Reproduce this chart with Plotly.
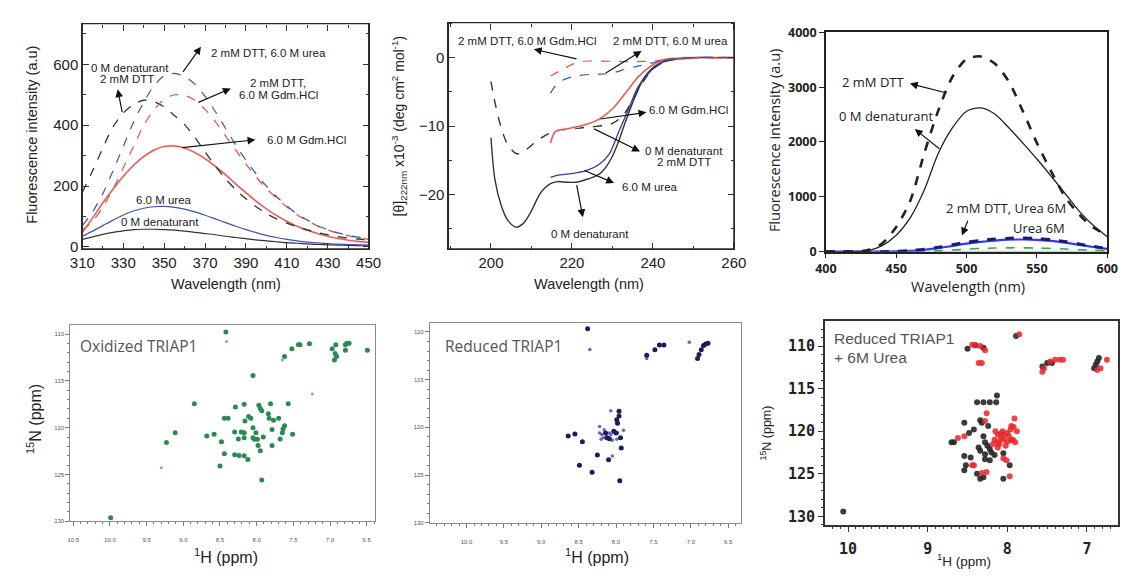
import plotly.graph_objects as go

W, H = 1132, 579

# ---------------- Panel A: intrinsic (Trp) fluorescence ----------------
WL_A = list(range(310, 451, 5))
A_NATIVE = [25, 33, 41, 48, 53, 57, 58, 58, 57, 55, 52, 48, 44, 40, 35, 31, 27, 23, 20, 17, 14, 12, 10, 8, 7, 6, 5, 4, 4]
A_UREA = [35, 52, 70, 88, 105, 118, 127, 132, 133, 130, 124, 115, 104, 92, 80, 68, 57, 47, 38, 31, 25, 20, 16, 13, 11, 9, 8, 7, 6]
A_GDM = [48, 95, 145, 190, 232, 268, 297, 318, 330, 332, 325, 310, 290, 265, 237, 207, 178, 150, 125, 103, 84, 68, 55, 44, 35, 28, 22, 18, 15]
A_DTT = [180, 250, 325, 395, 440, 468, 482, 478, 460, 432, 402, 360, 312, 266, 224, 188, 158, 132, 110, 92, 78, 66, 56, 47, 40, 34, 29, 26, 23]
A_DTT_GDM = [55, 85, 130, 190, 260, 330, 400, 450, 485, 500, 498, 482, 452, 412, 365, 318, 272, 230, 192, 160, 131, 106, 86, 69, 56, 45, 37, 30, 25]
A_DTT_UREA = [70, 115, 175, 250, 330, 410, 475, 530, 562, 570, 560, 535, 495, 445, 390, 335, 285, 240, 200, 165, 135, 108, 88, 70, 57, 46, 38, 32, 27]

# ---------------- Panel B: far-UV CD ----------------
B_NATIVE_X = [200, 201, 202.6, 204.2, 206.2, 208, 209.8, 212.2, 214.7, 216.5, 218.7, 221, 223, 225.1, 227, 228.4, 230, 231.5, 233.2, 235.6, 238, 241.2, 244.4, 248, 252, 256, 260]
B_NATIVE_Y = [-11.7, -17.9, -21.7, -23.8, -24.75, -24.2, -22.6, -19.8, -18.4, -18.1, -18.2, -18.2, -17.9, -17.5, -16.9, -16.0, -14.4, -12.3, -9.4, -5.7, -2.8, -0.95, -0.4, -0.15, -0.05, 0, 0]
B_DTT_X = [200, 201, 202.6, 204.2, 206.2, 207.5, 209, 212.2, 215.5, 220.3, 225.1, 228, 230, 231.6, 233.2, 236.4, 239.6, 243.6, 248, 254, 260]
B_DTT_Y = [-3.5, -6.6, -10.4, -12.8, -14.0, -14.0, -13.3, -11.8, -10.8, -10.4, -10.1, -9.9, -9.6, -9.0, -8.0, -4.7, -1.9, -0.4, -0.1, 0, 0]
B_GDM_X = [214.7, 215.9, 218.7, 222.7, 226.7, 230, 233.2, 236.4, 239.6, 242.8, 246, 250, 255, 260]
B_GDM_Y = [-12.5, -10.8, -10.4, -9.9, -9.0, -7.5, -5.2, -2.8, -1.2, -0.3, -0.1, 0, 0, 0]
B_UREA_X = [214.7, 216.3, 218.5, 220.3, 223.5, 226.7, 229.2, 231.6, 234, 236.4, 239.6, 242.8, 246, 250, 255, 260]
B_UREA_Y = [-17.5, -17.2, -17.0, -16.9, -16.5, -15.6, -14.1, -10.8, -7.5, -4.2, -1.9, -0.5, -0.15, 0, 0, 0]
B_DTT_GDM_X = [214.7, 217.9, 220, 221.9, 225, 230, 235, 240, 245, 250, 260]
B_DTT_GDM_Y = [-2.7, -1.65, -1.0, -0.6, -0.5, -0.55, -0.6, -0.5, -0.2, -0.05, 0]
B_DTT_UREA_X = [214.7, 215.8, 217.1, 219, 221.9, 225, 228, 231, 233.2, 236, 239, 242, 246, 250, 260]
B_DTT_UREA_Y = [-5.2, -4.2, -3.5, -3.0, -2.6, -2.45, -2.4, -2.1, -1.7, -1.3, -0.9, -0.5, -0.15, 0, 0]

# ---------------- Panel C: ANS fluorescence ----------------
WL_C = list(range(400, 601, 10))
C_NATIVE = [0, -10, 0, 20, 110, 300, 620, 1130, 1800, 2260, 2560, 2620, 2510, 2260, 1980, 1690, 1380, 1060, 740, 480, 270]
C_DTT = [0, 0, 5, 30, 150, 450, 930, 1800, 2580, 3190, 3510, 3560, 3430, 3100, 2560, 1980, 1470, 1000, 680, 440, 300]
C_UREA = [0, 0, 0, 0, 0, 5, 15, 35, 65, 105, 145, 178, 202, 218, 222, 215, 195, 165, 125, 85, 50]
C_DTT_UREA = [0, 0, 0, 0, 0, 5, 20, 45, 80, 125, 170, 205, 230, 245, 248, 240, 218, 185, 140, 95, 55]
C_GREEN = [0, 0, 0, 0, 0, 0, 0, 5, 15, 30, 45, 58, 66, 70, 70, 66, 58, 48, 36, 25, 15]
C_BASE = [0, 0, 0, 0, 0, 0, 0, 0, 0, 0, 0, 0, 0, 0, 0, 0, 0, 0, 0, 0, 0]

# ---------------- Panel D: oxidized TRIAP1 HSQC ----------------
OX_H = [8.42, 7.62, 7.52, 7.43, 7.41, 7.28, 6.97, 6.92, 6.94, 6.91, 6.93, 6.79, 6.77, 6.74, 6.79, 6.49,
        8.05, 8.85, 9.11, 9.23, 9.99, 8.68, 8.58, 8.48, 8.44, 8.50, 8.44, 8.39, 8.29, 8.17, 8.25, 8.30,
        8.24, 8.17, 8.12, 8.30, 8.21, 8.17, 8.17, 8.16, 8.11, 8.05, 8.03, 8.05, 8.01, 7.99, 7.97, 7.95,
        7.93, 7.98, 7.95, 7.93, 7.84, 7.83, 7.81, 7.79, 7.79, 7.77, 7.70, 7.68, 7.65, 7.64, 7.62, 7.57,
        7.51, 8.08, 7.91]
OX_N = [109.76, 112.4, 111.56, 111.14, 111.14, 111.04, 111.56, 111.14, 112.77, 112.4, 112.08, 111.14, 110.97, 110.97, 111.73, 111.73,
        114.43, 117.44, 120.55, 121.59, 129.62, 120.9, 120.7, 121.5, 122.8, 124.1, 119.0, 119.0, 117.8, 117.5, 121.2, 122.9,
        122.98, 123.0, 123.4, 120.45, 120.45, 120.55, 121.07, 119.3, 118.8, 121.07, 121.25, 120.0, 120.55, 121.25, 117.6, 117.96,
        118.2, 121.9, 122.46, 125.6, 118.5, 119.0, 117.44, 120.2, 121.9, 119.2, 119.0, 121.2, 120.55, 120.14, 119.8, 117.44,
        120.7, 119.0, 121.0]
OX_WEAK_H = [8.41, 7.24, 9.30, 7.65]
OX_WEAK_N = [110.8, 116.4, 124.29, 112.77]

# ---------------- Panel E: reduced TRIAP1 HSQC ----------------
RED_H = [8.38, 7.59, 7.48, 7.42, 7.36, 6.91, 6.89, 6.86, 6.83, 6.80, 6.77, 7.96, 7.99, 7.98, 7.96,
         8.64, 8.55, 8.45, 8.49, 8.32, 8.25, 8.10, 7.94, 7.93, 7.95, 8.12, 8.09, 8.14, 8.03, 8.00]
RED_N = [109.66, 112.44, 111.86, 111.36, 111.36, 112.78, 112.37, 111.86, 111.42, 111.25, 111.19, 118.3, 119.2, 119.56, 118.8,
         120.9, 120.7, 121.5, 123.97, 124.7, 122.9, 123.4, 121.08, 122.17, 125.6, 121.08, 121.2, 120.6, 120.4, 120.58]
RED_W_H = [8.35, 7.59, 7.02, 8.07, 8.05, 8.22, 8.19, 8.16, 8.17, 8.07, 8.22, 7.90, 7.99, 8.09, 8.20, 8.05, 7.98, 8.13]
RED_W_N = [111.83, 112.78, 111.08, 118.27, 123.0, 120.6, 120.75, 120.24, 121.08, 120.75, 119.9, 120.3, 121.25, 120.58, 121.25, 121.36, 120.58, 121.0]

# ---------------- Panel F: reduced TRIAP1 + 6 M urea ----------------
U_BLK_H = [10.06, 8.50, 8.40, 8.30, 7.89, 7.56, 7.50, 7.44, 6.89, 6.87, 6.91, 6.85, 8.13, 8.38, 8.30, 8.22, 8.14,
           8.54, 8.67, 8.48, 8.42, 8.32, 8.24, 8.54, 8.52, 8.54, 8.38, 8.34, 8.30, 8.05, 8.22, 8.16, 7.97, 8.05,
           8.28, 8.30, 8.28, 8.25, 8.22, 8.20, 8.34, 8.28, 8.34, 8.70, 8.46, 8.36]
U_BLK_N = [129.43, 110.3, 109.9, 110.2, 108.8, 112.4, 112.0, 112.0, 112.2, 111.8, 112.6, 111.4, 115.8, 116.6, 116.6, 116.6, 116.6,
           119.0, 121.3, 120.2, 119.8, 119.0, 119.4, 122.9, 124.0, 124.6, 125.0, 125.6, 125.4, 125.6, 123.4, 122.8, 124.0, 122.6,
           123.3, 120.6, 121.3, 121.7, 122.1, 122.5, 122.3, 122.7, 118.7, 121.3, 123.1, 121.9]
U_RED_H = [8.44, 8.40, 8.34, 8.28, 8.36, 8.32, 7.85, 7.56, 7.54, 7.46, 7.40, 7.34, 7.30, 6.87, 6.75, 6.83,
           8.26, 8.28, 7.91, 7.95, 8.62, 8.54, 8.42, 8.32, 8.01, 8.05, 7.97, 8.44, 8.26,
           8.12, 8.16, 8.12, 8.08, 8.04, 8.00, 7.96, 7.92, 7.88, 8.10, 8.05, 8.00, 7.95, 7.90,
           8.15, 8.06, 7.98, 7.93, 8.02, 8.12, 8.18, 8.08]
U_RED_N = [109.85, 109.9, 110.0, 110.5, 112.0, 112.0, 108.6, 113.0, 112.6, 111.8, 111.6, 111.6, 111.6, 112.8, 111.6, 112.6,
           117.9, 118.8, 118.5, 119.4, 120.8, 120.6, 124.0, 124.9, 123.4, 123.2, 125.3, 124.0, 124.8,
           120.4, 121.0, 121.3, 120.8, 120.5, 120.2, 119.8, 119.5, 120.0, 121.5, 121.0, 121.2, 121.1, 121.3,
           120.0, 120.0, 120.6, 121.0, 121.7, 121.9, 121.5, 120.3]


def dom_x(a, b):
    return [a / W, b / W]


def dom_y(top, bottom):
    return [1 - bottom / H, 1 - top / H]


fig = go.Figure()


def line(xs, ys, ax, color, width=1.2, dash="solid"):
    fig.add_trace(go.Scatter(x=xs, y=ys, xaxis="x" + ax, yaxis="y" + ax, mode="lines",
                             line=dict(color=color, width=width, dash=dash, shape="spline", smoothing=0.8),
                             showlegend=False, hoverinfo="skip"))


def pts(xs, ys, ax, color, size, opacity=1.0):
    fig.add_trace(go.Scatter(x=xs, y=ys, xaxis="x" + ax, yaxis="y" + ax, mode="markers",
                             marker=dict(color=color, size=size, opacity=opacity, line=dict(width=0)),
                             showlegend=False, hoverinfo="skip"))


BLK, BLU, REDC = "#333333", "#3d55a8", "#d9534f"
# Panel A
line(WL_A, A_NATIVE, "", BLK)
line(WL_A, A_UREA, "", BLU)
line(WL_A, A_GDM, "", "#f8d0ca", 2.4)
line(WL_A, A_GDM, "", REDC, 1.2)
line(WL_A, A_DTT, "", BLK, 1.3, "dash")
line(WL_A, A_DTT_GDM, "", REDC, 1.2, "dash")
line(WL_A, A_DTT_UREA, "", BLU, 1.2, "dash")
# Panel B
line(B_NATIVE_X, B_NATIVE_Y, "2", BLK, 1.4)
line(B_DTT_X, B_DTT_Y, "2", BLK, 1.4, "dash")
line(B_GDM_X, B_GDM_Y, "2", "#f8d0ca", 2.4)
line(B_GDM_X, B_GDM_Y, "2", REDC, 1.2)
line(B_UREA_X, B_UREA_Y, "2", "#2f3f9f", 1.3)
line(B_DTT_GDM_X, B_DTT_GDM_Y, "2", REDC, 1.2, "dash")
line(B_DTT_UREA_X, B_DTT_UREA_Y, "2", BLU, 1.2, "dash")
# Panel C
line(WL_C, C_BASE, "3", "#8fe08f", 2.0)
line(WL_C, C_GREEN, "3", "#3aa35a", 1.6, "dash")
line(WL_C, C_UREA, "3", "#3535ff", 2.2)
line(WL_C, C_DTT_UREA, "3", "#1c1c70", 3.0, "dash")
line(WL_C, C_NATIVE, "3", "#222222", 1.3)
line(WL_C, C_DTT, "3", "#222222", 2.6, "dash")
# Panel D
pts(OX_H, OX_N, "4", "#2a8a4f", 5)
pts(OX_WEAK_H, OX_WEAK_N, "4", "#6fb88a", 3)
# Panel E
pts(RED_W_H, RED_W_N, "5", "#5555b8", 3.5, 0.9)
pts(RED_H, RED_N, "5", "#1c1c5a", 5)
# Panel F
pts(U_BLK_H, U_BLK_N, "6", "#262626", 6, 0.9)
pts(U_RED_H, U_RED_N, "6", "#e8242a", 6, 0.85)

# empty carrier traces so the tick-only helper axes get their own subplots
for xa, ya in [("x7", "y"), ("x8", "y"), ("x", "y7"), ("x", "y8"),
               ("x9", "y2"), ("x10", "y2"), ("x2", "y9"), ("x2", "y10")]:
    fig.add_trace(go.Scatter(x=[], y=[], xaxis=xa, yaxis=ya, mode="lines", showlegend=False, hoverinfo="skip"))

SANS = "Liberation Sans"


def box_axis(domain, rng, dtick, tick0, anchor, fsize=15, **kw):
    d = dict(domain=domain, range=rng, anchor=anchor, showline=True, linecolor="#2a2a2a", linewidth=1.2,
             mirror=True, ticks="", dtick=dtick, tick0=tick0, showgrid=False, zeroline=False,
             tickfont=dict(family=SANS, size=fsize, color="#222"))
    d.update(kw)
    return d


def tick_axis(base, rng, dtick, tick0, minor, pos, side):
    # helper axis drawn on a frame edge whose outward ticks point into the plot
    return dict(overlaying=base, anchor="free", position=pos, side=side, range=rng,
                ticks="outside", ticklen=6, tickwidth=1.2, tickcolor="#333", dtick=dtick, tick0=tick0,
                minor=dict(dtick=minor, ticks="outside", ticklen=3, tickwidth=1, tickcolor="#333", showgrid=False),
                showticklabels=False, showline=False, showgrid=False, zeroline=False)


def nmr_axis(domain, rng, dtick, tick0, minor, anchor, fmt, **kw):
    d = dict(domain=domain, range=rng, anchor=anchor, showline=True, linecolor="#8a8a8a", linewidth=1,
             mirror=True, ticks="outside", ticklen=4, tickwidth=1, tickcolor="#777",
             dtick=dtick, tick0=tick0, tickformat=fmt, showgrid=False, zeroline=False,
             minor=dict(dtick=minor, ticks="outside", ticklen=2, tickcolor="#777", showgrid=False),
             tickfont=dict(family=SANS, size=6, color="#555"))
    d.update(kw)
    return d


XA, YA = dom_x(71, 364), dom_y(15, 247)
XB, YB = dom_x(445.7, 737.8), dom_y(14, 247)
RXA, RYA = [310, 450], [-6, 734]
RXB, RYB = [189.5, 260], [-27.9, 5.1]

layout_axes = dict(
    xaxis=box_axis(XA, RXA, 20, 310, "y"),
    yaxis=box_axis(YA, RYA, 200, 0, "x"),
    xaxis2=box_axis(XB, RXB, 20, 200, "y2"),
    yaxis2=box_axis(YB, RYB, 10, 0, "x2"),
    xaxis7=tick_axis("x", RXA, 20, 310, 10, YA[0], "top"),
    xaxis8=tick_axis("x", RXA, 20, 310, 10, YA[1], "bottom"),
    yaxis7=tick_axis("y", RYA, 200, 0, 100, XA[0], "right"),
    yaxis8=tick_axis("y", RYA, 200, 0, 100, XA[1], "left"),
    xaxis9=tick_axis("x2", RXB, 20, 200, 10, YB[0], "top"),
    xaxis10=tick_axis("x2", RXB, 20, 200, 10, YB[1], "bottom"),
    yaxis9=tick_axis("y2", RYB, 10, 0, 5, XB[0], "right"),
    yaxis10=tick_axis("y2", RYB, 10, 0, 5, XB[1], "left"),
    xaxis3=dict(domain=dom_x(832, 1120), range=[400, 600], anchor="y3", showline=True, linecolor="#222",
                linewidth=1.5, mirror=True, ticks="outside", ticklen=5, tickcolor="#222", dtick=50,
                showgrid=False, zeroline=False,
                tickfont=dict(family="Open Sans", size=12.5, color="#222", weight="bold")),
    yaxis3=dict(domain=dom_y(24, 250), range=[0, 4000], anchor="x3", showline=True, linecolor="#222",
                linewidth=1.5, mirror=True, ticks="outside", ticklen=5, tickcolor="#222", dtick=1000,
                showgrid=False, zeroline=False,
                tickfont=dict(family="Open Sans", size=12.5, color="#222", weight="bold")),
    xaxis4=nmr_axis(dom_x(58.7, 371), [10.54, 6.38], 0.5, 10, 0.1, "y4", ".1f", ticklabelstandoff=9),
    yaxis4=nmr_axis(dom_y(326, 527.7), [130, 109.07], 5, 110, 1, "x4", "d"),
    xaxis5=nmr_axis(dom_x(426.7, 745), [10.49, 6.33], 0.5, 10, 0.1, "y5", ".1f", ticklabelstandoff=9),
    yaxis5=nmr_axis(dom_y(323.3, 529.3), [130, 109.04], 5, 110, 1, "x5", "d"),
    xaxis6=dict(domain=dom_x(831, 1131), range=[10.29, 6.61], anchor="y6", showline=True, linecolor="#333",
                linewidth=1.5, mirror=True, ticks="outside", ticklen=5, tickcolor="#333", dtick=1, tick0=10,
                showgrid=False, zeroline=False, ticklabelstandoff=4,
                minor=dict(dtick=0.1, ticks="outside", ticklen=2.5, tickcolor="#333", showgrid=False),
                tickfont=dict(family="DejaVu Sans Mono", size=15, color="#222", weight="bold")),
    yaxis6=dict(domain=dom_y(321.7, 531.7), range=[131.03, 107.08], anchor="x6", showline=True, linecolor="#333",
                linewidth=1.5, mirror=True, ticks="outside", ticklen=5, tickcolor="#333", dtick=5, tick0=110,
                showgrid=False, zeroline=False,
                minor=dict(dtick=1, ticks="outside", ticklen=2.5, tickcolor="#333", showgrid=False),
                tickfont=dict(family="DejaVu Sans Mono", size=15, color="#222", weight="bold")),
)

# plain rectangular frames around the two top-left spectra panels
shapes = [
    dict(type="rect", xref="x domain", yref="y domain", x0=0, x1=1, y0=0, y1=1,
         line=dict(color="#2a2a2a", width=1.2), fillcolor="rgba(0,0,0,0)", layer="above"),
    dict(type="rect", xref="x2 domain", yref="y2 domain", x0=0, x1=1, y0=0, y1=1,
         line=dict(color="#2a2a2a", width=1.2), fillcolor="rgba(0,0,0,0)", layer="above"),
]

ann = []


def ptext(px, py, text, size, angle=0, family=SANS, color="#222"):
    ann.append(dict(x=px / W, y=1 - py / H, xref="paper", yref="paper", text=text, showarrow=False,
                    textangle=angle, xanchor="center", yanchor="middle",
                    font=dict(family=family, size=size, color=color)))


def dtext(ax, x, y, text, size=11.5, family=SANS, xanchor="center"):
    ann.append(dict(x=x, y=y, xref="x" + ax, yref="y" + ax, text=text, showarrow=False,
                    xanchor=xanchor, yanchor="middle", font=dict(family=family, size=size, color="#222")))


def arrow(ax, tail, head):
    ann.append(dict(x=head[0], y=head[1], ax=tail[0], ay=tail[1], xref="x" + ax, yref="y" + ax,
                    axref="x" + ax, ayref="y" + ax, text="", showarrow=True, arrowhead=2,
                    arrowsize=1.3, arrowwidth=1.2, arrowcolor="#111", standoff=0, startstandoff=0))


# axis titles
ptext(20, 130, "Fluorescence intensity (a.u)", 14.5, -90)
ptext(218, 283, "Wavelength (nm)", 14.5)
ptext(396, 120, "[θ]<sub>222nm</sub> x10<sup>-3</sup> (deg cm<sup>2</sup> mol<sup>-1</sup>)", 14, -90)
ptext(590, 283, "Wavelength (nm)", 14.5)
ptext(779, 136, "Fluorescence intensity (a.u)", 14.5, -90, "Open Sans")
ptext(977, 286, "Wavelength (nm)", 14.5, 0, "Open Sans")
ptext(21, 423, "<sup>15</sup>N (ppm)", 16, -90)
ptext(218, 564, "<sup>1</sup>H (ppm)", 16)
ptext(598, 564, "<sup>1</sup>H (ppm)", 16)
ptext(771, 437, "<sup>15</sup>N (ppm)", 12.5, -90)
ptext(973, 568, "<sup>1</sup>H (ppm)", 13.5)

# panel labels
ann.append(dict(x=67 / W, y=1 - 347 / H, xref="paper", yref="paper", text="Oxidized TRIAP1", showarrow=False,
                xanchor="left", yanchor="middle", font=dict(family="Open Sans", size=15.5, color="#555")))
ann.append(dict(x=440 / W, y=1 - 347 / H, xref="paper", yref="paper", text="Reduced TRIAP1", showarrow=False,
                xanchor="left", yanchor="middle", font=dict(family="Open Sans", size=15.5, color="#555")))
ann.append(dict(x=838 / W, y=1 - 339 / H, xref="paper", yref="paper", text="Reduced TRIAP1", showarrow=False,
                xanchor="left", yanchor="middle", font=dict(family=SANS, size=15.5, color="#555")))
ann.append(dict(x=838 / W, y=1 - 359 / H, xref="paper", yref="paper", text="+ 6M Urea", showarrow=False,
                xanchor="left", yanchor="middle", font=dict(family=SANS, size=15.5, color="#555")))

# Panel A labels
dtext("", 401, 638, "2 mM DTT, 6.0 M urea")
dtext("", 333.3, 587, "0 M denaturant")
dtext("", 331.8, 553, "2 mM DTT")
dtext("", 405.9, 539, "2 mM DTT,")
dtext("", 405.9, 500, "6.0 M Gdm.HCl")
dtext("", 419.4, 351, "6.0 M Gdm.HCl")
dtext("", 349.7, 154, "6.0 M urea")
dtext("", 347.9, 82, "0 M denaturant")
arrow("", (358.7, 570), (368, 658))
arrow("", (329.6, 438), (327.3, 518))
arrow("", (366, 473), (382.6, 521))
arrow("", (358.2, 326), (394.6, 352))

# Panel B labels
dtext("2", 209.0, 2.36, "2 mM DTT, 6.0 M Gdm.HCl")
dtext("2", 244.4, 2.36, "2 mM DTT, 6.0 M urea")
dtext("2", 248.9, -7.64, "6.0 M Gdm.HCl")
dtext("2", 247.7, -13.7, "0 M denaturant")
dtext("2", 247.7, -15.3, "2 mM DTT")
dtext("2", 239.2, -18.9, "6.0 M urea")
dtext("2", 224.5, -25.7, "0 M denaturant")
arrow("2", (221.5, -0.24), (210.6, 1.2))
arrow("2", (228, -2.4), (237.2, 0.95))
arrow("2", (226.7, -9.0), (238.4, -8.0))
arrow("2", (225.1, -10.3), (236.8, -13.7))
arrow("2", (222.7, -16.4), (230.4, -18.3))
arrow("2", (221.1, -18.4), (222.7, -23.3))

# Panel C labels
dtext("3", 433.8, 3097, "2 mM DTT", 13, "Open Sans")
dtext("3", 442.4, 2478, "0 M denaturant", 13, "Open Sans")
dtext("3", 527.8, 796, "2 mM DTT, Urea 6M", 13, "Open Sans")
dtext("3", 551.6, 425, "Urea 6M", 13, "Open Sans")
arrow("3", (486.3, 2890), (459.7, 3065))
arrow("3", (481.7, 1855), (463.2, 2235))
arrow("3", (501.3, 590), (496.7, 295))

fig.update_layout(width=W, height=H, margin=dict(l=0, r=0, t=0, b=0), autosize=False,
                  plot_bgcolor="white", paper_bgcolor="white", showlegend=False,
                  annotations=ann, shapes=shapes, **layout_axes)

fig.write_html("out.html")
